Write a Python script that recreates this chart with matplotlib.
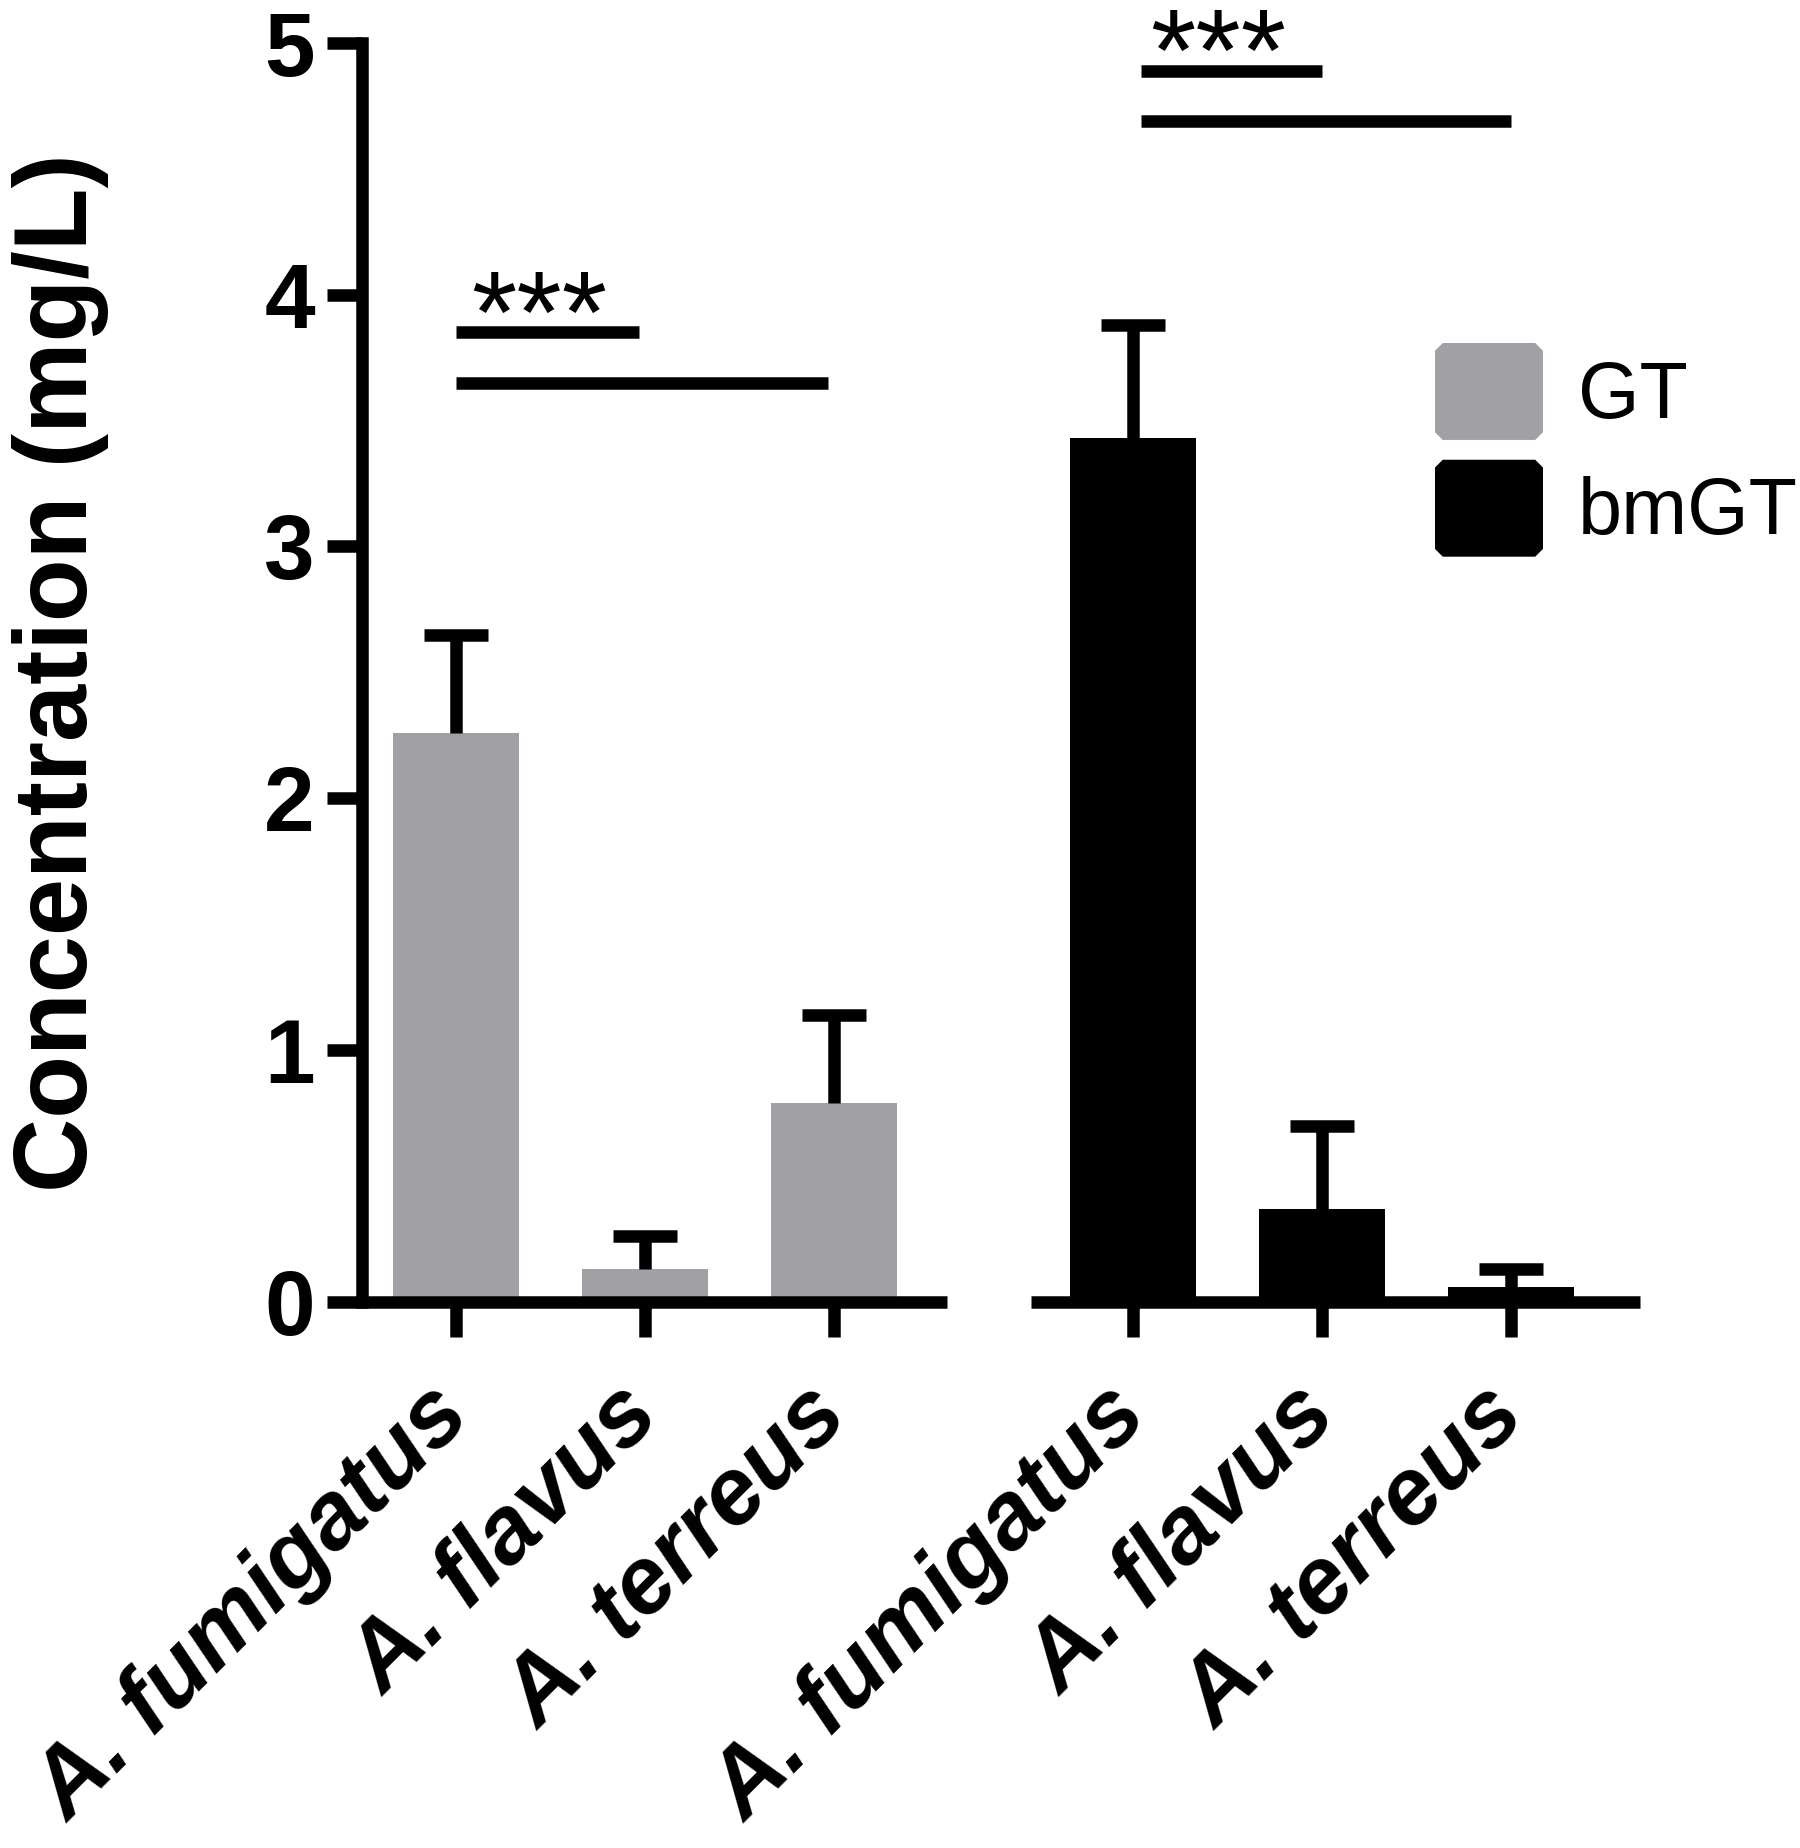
import numpy as np
import matplotlib
matplotlib.use('Agg')
import matplotlib.pyplot as plt
from matplotlib.patches import Patch, Polygon
from matplotlib.legend_handler import HandlerPatch
from matplotlib.transforms import ScaledTranslation

# data
species = ['A. fumigatus', 'A. flavus', 'A. terreus']
gt_mean = [2.26, 0.13, 0.79]
gt_err = [0.39, 0.13, 0.35]
bmgt_mean = [3.43, 0.37, 0.06]
bmgt_err = [0.45, 0.33, 0.07]
groups = ['GT', 'bmGT']
yticks = [0, 1, 2, 3, 4, 5]

grey = '#A1A1A5'
lw = 9

plt.rcParams['font.family'] = 'Liberation Sans'
fig = plt.figure(figsize=(18, 18.48), dpi=100)
ax1 = fig.add_axes([0.2011, 0.2955, 0.325, 0.6813])
ax2 = fig.add_axes([0.5728, 0.2955, 0.3383, 0.6813])

x = np.arange(len(species))


def draw_panel(ax, means, errs, color, xlim):
    ax.bar(x, means, width=0.667, color=color, zorder=2)
    eb = ax.errorbar(x, means, yerr=[np.zeros(len(errs)), errs], fmt='none',
                     ecolor='black', elinewidth=lw, capsize=22.7, capthick=lw, zorder=3)
    # prism style: only the upper cap
    for cap in eb[1]:
        if np.allclose(cap.get_ydata(), means):
            cap.set_visible(False)
    ax.set_xlim(*xlim)
    ax.set_ylim(0, 5)
    ax.set_xticks(x)
    ax.set_xticklabels(species, rotation=45, ha='right', va='center',
                       rotation_mode='anchor', fontsize=68,
                       fontweight='bold', fontstyle='italic')
    shift = ScaledTranslation(0.06, 0, fig.dpi_scale_trans)
    for lab in ax.get_xticklabels():
        lab.set_transform(lab.get_transform() + shift)
    ax.tick_params(axis='x', length=25, width=lw, pad=47)
    for s in ['top', 'right']:
        ax.spines[s].set_visible(False)
    ax.spines['bottom'].set_linewidth(lw)
    ax.spines['bottom'].set_capstyle('butt')
    ax.spines['left'].set_linewidth(lw)


def sig(ax, pairs, ystar, xstar):
    for x0, x1, y in pairs:
        ax.plot([x0, x1], [y, y], color='black', lw=lw, solid_capstyle='butt', clip_on=False)
    ax.text(xstar, ystar, '***', ha='center', va='baseline', fontsize=84, clip_on=False)


draw_panel(ax1, gt_mean, gt_err, grey, (-0.497, 2.598))
draw_panel(ax2, bmgt_mean, bmgt_err, 'black', (-0.540, 2.683))

ax1.set_yticks(yticks)
ax1.set_yticklabels([str(t) for t in yticks], fontsize=65.5, fontweight='bold')
ax1.tick_params(axis='y', length=25, width=lw, pad=9)
ax1.set_ylabel('Concentration (mg/L)', fontsize=74, fontweight='bold', labelpad=112)

ax2.spines['left'].set_visible(False)
ax2.tick_params(axis='y', left=False, labelleft=False)

sig(ax1, [(0, 0.97, 3.85), (0, 1.97, 3.65)], 3.77, 0.44)
sig(ax2, [(0.04, 1.0, 4.89), (0.04, 2.0, 4.69)], 4.81, 0.45)


def chamfer(legend, orig_handle, xdescent, ydescent, width, height, fontsize):
    x0, y0 = -xdescent, -ydescent
    c = 0.08 * height
    pts = [(x0 + c, y0), (x0 + width - c, y0), (x0 + width, y0 + c),
           (x0 + width, y0 + height - c), (x0 + width - c, y0 + height),
           (x0 + c, y0 + height), (x0, y0 + height - c), (x0, y0 + c)]
    return Polygon(pts, closed=True)


handles = [Patch(facecolor=grey, edgecolor='none'), Patch(facecolor='black', edgecolor='none')]
fig.legend(handles, groups, loc='upper left', bbox_to_anchor=(1435 / 1800, 1 - 343 / 1848),
           frameon=False, borderpad=0, borderaxespad=0, handlelength=1.364, handleheight=1.507,
           handletextpad=0.44, labelspacing=0.25, prop={'size': 57},
           handler_map={Patch: HandlerPatch(patch_func=chamfer)})

fig.savefig('out.png', dpi=100, facecolor='white')
